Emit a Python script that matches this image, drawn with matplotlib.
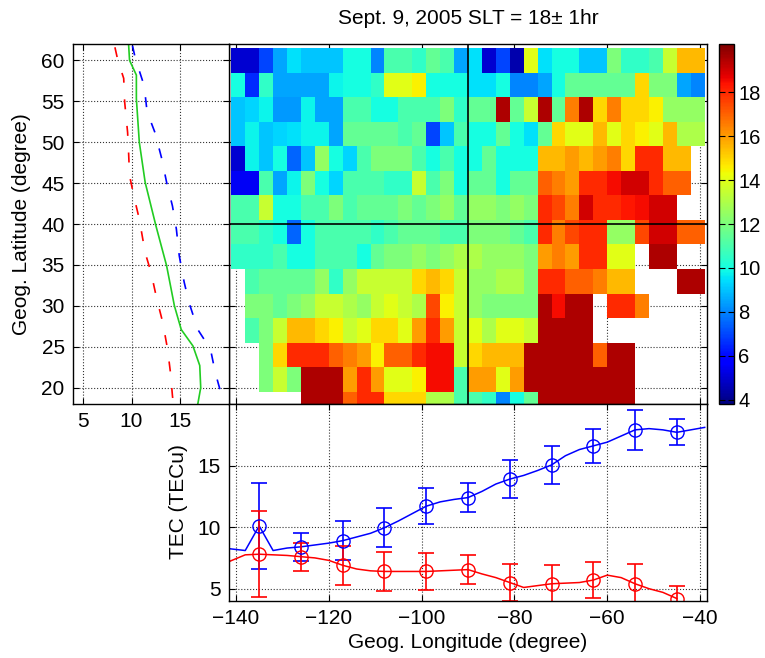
import numpy as np
import matplotlib.pyplot as plt

plt.rcParams['font.family'] = ['Liberation Sans', 'DejaVu Sans']
plt.rcParams['font.size'] = 15
plt.rcParams['axes.unicode_minus'] = True

nan = np.nan

# TEC map, 3x3 degree cells, rows from 60N (top) down to 18N, columns from -139.5 to -40.5
tec_grid = [
    [5, 5, 7, 8.5, 9.5, 9, 9, 9, 10, 10, 8, 11, 11, 10.5, 11.5, 11, 8.5,
     9.5, 5, 7, 4.5, 14, 9.5, 10, 10, 9, 9, 12, 10.5, 10.5, 11, 13.5, 15.5, 15.5],
    [10, 6.5, 10.5, 8.5, 8.5, 8.5, 8.5, 9.8, 10, 10, 10.5, 14, 14, 14.5, 10, 10, 10,
     9.5, 9.5, 10, 8, 8, 8.5, 10, 11.5, 11.5, 11.5, 11.5, 11.5, 15, 12, 12, 8.5, 8],
    [9, 9.3, 9.8, 8.3, 8.3, 9.8, 8.5, 8.5, 11, 11, 10, 10, 11, 11, 11, 12, 10.5,
     11.5, 11.5, 19.5, 11.5, 13.5, 19.5, 11.5, 16.5, 19.5, 15, 16.5, 15, 15, 14.5, 12.5, 12.5, 12.5],
    [9, 9.8, 9, 9.3, 9.5, 9.8, 9.8, 8.5, 11.5, 11.5, 11.5, 11.5, 11, 11.5, 7, 9, 11,
     10, 10, 11.5, 10, 9.5, 11.5, 15, 14, 14, 15.5, 14, 15, 14.5, 14, 15.5, 13, 13],
    [5, 9.8, 9, 10, 7.5, 9, 12.5, 10, 9.3, 11, 12, 12, 12, 11, 10, 11, 10,
     10, 11.5, 10, 10, 10, 15.5, 15.5, 16, 15.5, 16, 16.5, 15, 18, 18, 15.5, 15.5, nan],
    [5.5, 5.5, 11, 8.5, 9.8, 12, 10, 9.3, 11, 11, 11, 10.5, 10.5, 13.5, 11, 12, 10,
     11.5, 11.5, 10, 11.5, 11.5, 17, 16.5, 16, 18, 18, 18.5, 19, 19, 18, 17, 17, nan],
    [11, 11, 13.5, 10, 10, 11, 11, 12, 11, 11.5, 11.5, 11.5, 12, 11.5, 12, 12.5, 11.5,
     12.5, 12.5, 12, 12.5, 12, 18, 17.5, 16.5, 19, 18, 18, 18.3, 18.5, 19, 19, nan, nan],
    [11, 11, 10.5, 10, 7.5, 10, 11, 11, 11, 11, 10.5, 11, 11.5, 11.5, 11.5, 11, 11,
     12, 12, 12, 11.5, 11, 18, 16.5, 17.5, 18, 18, 12.5, 12.5, 17.5, 19, 19, 17, 17],
    [10.5, 10.5, 10.5, 11, 10, 10, 11, 11, 11, 10, 11.5, 12, 12, 12.5, 12, 12.5, 13,
     13, 12.5, 12.5, 12.5, 12, 16, 16.5, 16, 18, 18, 14, 14, nan, 19.5, 19.5, nan, nan],
    [nan, 11, 11.5, 11.5, 11.5, 11.5, 12.5, 10.5, 12.5, 13.5, 13.5, 13.5, 13.5, 15, 15.5, 15, 13.5,
     12.5, 12.5, 13, 13, 12, 18, 18, 17, 17, 16.5, 15.5, 15.5, nan, nan, nan, 19.5, 19.5],
    [nan, 12, 12, 11.5, 12, 12.5, 13.5, 13.5, 13, 12.5, 13.5, 14, 13.5, 13, 17.5, 14.5, 13.5,
     12.5, 12, 12, 12, 12, 19.5, 18.5, 19.5, 19.5, nan, 18, 18, 16.5, nan, nan, nan, nan],
    [nan, 11, 12, 13.5, 15.5, 15.5, 15, 14.5, 13.5, 14, 15, 15, 14, 16, 18, 16, 13.5,
     14, 13, 14, 14, 13.5, 19.5, 19.5, 19.5, 19.5, nan, nan, nan, nan, nan, nan, nan, nan],
    [nan, nan, 12, 15, 18, 18, 18, 17, 16.5, 16, 14.5, 17, 17, 18, 18.5, 18.5, 13.5,
     15, 15.5, 15.5, 15.5, 19.5, 19.5, 19.5, 19.5, 19.5, 17, 19.5, 19.5, nan, nan, nan, nan, nan],
    [nan, nan, 12, 13.5, 12, 19.5, 19.5, 19.5, 16, 18, 16, 14, 14, 14.5, 18.5, 18.5, 11,
     16, 16, 14, 16, 19.5, 19.5, 19.5, 19.5, 19.5, 19.5, 19.5, 19.5, nan, nan, nan, nan, nan],
    [nan, nan, nan, nan, nan, 19.5, 19.5, 19.5, 17, 18, 18, 15, 15, 15, 13, 13, 11,
     11, 10.5, 8, 10, 11.5, 19.5, 19.5, 19.5, 19.5, 19.5, 19.5, 19.5, nan, nan, nan, nan, nan],
]
lon_edges = np.arange(-141, -38, 3)
lat_edges = np.arange(16.5, 62, 3)

# latitude profiles (left panel)
green_lat = [62, 60, 58.2, 55.3, 50, 45.1, 39.8, 34.9, 30, 27.1, 25.1, 22.7, 20, 18]
green_tec = [9.7, 9.8, 10.5, 10.5, 10.8, 11.4, 12.5, 13.6, 14.4, 15.1, 16.3, 17.0, 17.1, 16.8]
red_lat = [61.6, 60, 57.8, 54.9, 51.2, 48.8, 45.9, 43.1, 40.6, 36.5, 34.1, 30.8, 28, 24.7, 21.8, 19, 18]
red_tec = [8.3, 8.6, 9.2, 9.3, 9.6, 9.7, 9.8, 10.3, 10.8, 11.4, 12.0, 12.6, 13.2, 13.7, 14.0, 14.2, 14.3]
blue_lat = [61.8, 60.2, 56.9, 53.7, 51.2, 48, 45.1, 42.2, 39.4, 36.1, 32.9, 30.4, 27.1, 24.7, 21.8, 18.8, 18]
blue_tec = [10.1, 10.4, 11.3, 11.6, 12.4, 13.1, 13.6, 14.2, 14.6, 14.9, 15.4, 15.9, 16.8, 18.1, 18.6, 19.3, 19.5]

# longitude profiles (bottom panel)
blue_lon = [-141.5] + list(range(-138, -38, 3))
blue_line = [8.25, 8.1, 10.1, 8.1, 8.3, 8.4, 8.55, 8.7, 8.9, 9.2, 9.5, 9.95, 10.5, 11.1, 11.7,
             12.05, 12.25, 12.4, 12.9, 13.5, 13.9, 14.2, 14.6, 15.05, 15.8, 16.3, 16.6, 16.9,
             17.4, 17.9, 18.0, 17.9, 17.7, 17.9, 18.1]
red_lon = [-141.5] + list(range(-138, -44, 3))
red_line = [7.2, 7.75, 7.8, 7.75, 7.7, 7.6, 7.5, 7.3, 6.9, 6.6, 6.45, 6.4, 6.4, 6.4, 6.4, 6.45,
            6.5, 6.55, 6.2, 5.9, 5.5, 5.1, 5.25, 5.4, 5.45, 5.5, 5.7, 6.1, 5.9, 5.4, 5.0, 4.7, 4.2]
eb_lon = [-135, -126, -117, -108, -99, -90, -81, -72, -63, -54, -45]
blue_mean = [10.1, 8.4, 8.9, 9.95, 11.7, 12.4, 13.9, 15.05, 16.6, 17.9, 17.7]
blue_err = [3.5, 1.15, 1.6, 1.6, 1.45, 1.2, 1.55, 1.55, 1.4, 1.65, 1.05]
red_mean = [7.8, 7.6, 6.9, 6.4, 6.4, 6.55, 5.5, 5.4, 5.7, 5.4, 4.2]
red_err = [3.5, 1.15, 1.6, 1.6, 1.5, 1.2, 1.5, 1.5, 1.45, 1.6, 1.0]

W, H = 765, 658
fig = plt.figure(figsize=(W / 100, H / 100), dpi=100)


def box(x0, y0, x1, y1):
    return [x0 / W, 1 - y1 / H, (x1 - x0) / W, (y1 - y0) / H]


ax_map = fig.add_axes(box(229, 44, 707, 404))
ax_lat = fig.add_axes(box(73, 44, 229, 404))
ax_lon = fig.add_axes(box(229, 404, 707, 601))
ax_cb = fig.add_axes(box(719, 44, 734, 404))

grid_kw = dict(color='k', linestyle=':', linewidth=0.8, alpha=0.8)
for ax in (ax_map, ax_lat, ax_lon):
    ax.set_axisbelow(True)
    ax.grid(True, **grid_kw)
    ax.tick_params(direction='in', top=True, right=True, length=4, width=0.8, pad=6)
    for s in ax.spines.values():
        s.set_linewidth(1.0)

# map
mesh = ax_map.pcolormesh(lon_edges, lat_edges, np.flipud(np.array(tec_grid)),
                         cmap='jet', vmin=3.8, vmax=20.2)
ax_map.axvline(-90, color='k', linewidth=1.2)
ax_map.axhline(40, color='k', linewidth=1.2)
ax_map.set_xlim(-141.5, -38.5)
ax_map.set_ylim(18, 62)
ax_map.set_xticks(range(-140, -39, 20))
ax_map.set_yticks(range(20, 61, 5))
ax_map.set_xticklabels([])
ax_map.set_yticklabels([])

cb = fig.colorbar(mesh, cax=ax_cb, ticks=range(4, 19, 2))
cb.outline.set_linewidth(1.0)
ax_cb.tick_params(direction='in', left=True, right=True, length=4, pad=3, labelsize=14.5)

# latitude profiles
ax_lat.plot(green_tec, green_lat, color='#22cc22', linewidth=1.2)
ax_lat.plot(red_tec, red_lat, color='r', linewidth=1.2, linestyle=(0, (6, 10)))
ax_lat.plot(blue_tec, blue_lat, color='b', linewidth=1.2, linestyle=(0, (6, 10)))
ax_lat.set_xlim(4, 20)
ax_lat.set_ylim(18, 62)
ax_lat.set_xticks([5, 10, 15])
ax_lat.set_yticks(range(20, 61, 5))

# longitude profiles
ax_lon.plot(blue_lon, blue_line, color='b', linewidth=1.1)
ax_lon.plot(red_lon, red_line, color='r', linewidth=1.1)
ax_lon.errorbar(eb_lon, blue_mean, yerr=blue_err, fmt='o', color='b', mfc='none',
                markersize=9.5, capsize=6, elinewidth=1.2, capthick=1.2)
ax_lon.errorbar(eb_lon, red_mean, yerr=red_err, fmt='o', color='r', mfc='none',
                markersize=9.5, capsize=6, elinewidth=1.2, capthick=1.2)
ax_lon.set_xlim(-141.5, -38.5)
ax_lon.set_ylim(4, 20)
ax_lon.set_xticks(range(-140, -39, 20))
ax_lon.set_yticks([5, 10, 15])

fig.text(468 / W, 1 - 19 / H, 'Sept. 9, 2005 SLT = 18\u00b1 1hr', ha='center', va='center')
fig.text(22 / W, 1 - 224 / H, 'Geog. Latitude (degree)', rotation=90, ha='center', va='center')
fig.text(178 / W, 1 - 502 / H, 'TEC (TECu)', rotation=90, ha='center', va='center')
fig.text(468 / W, 1 - 643 / H, 'Geog. Longitude (degree)', ha='center', va='center')

fig.savefig('out.png', dpi=100)
